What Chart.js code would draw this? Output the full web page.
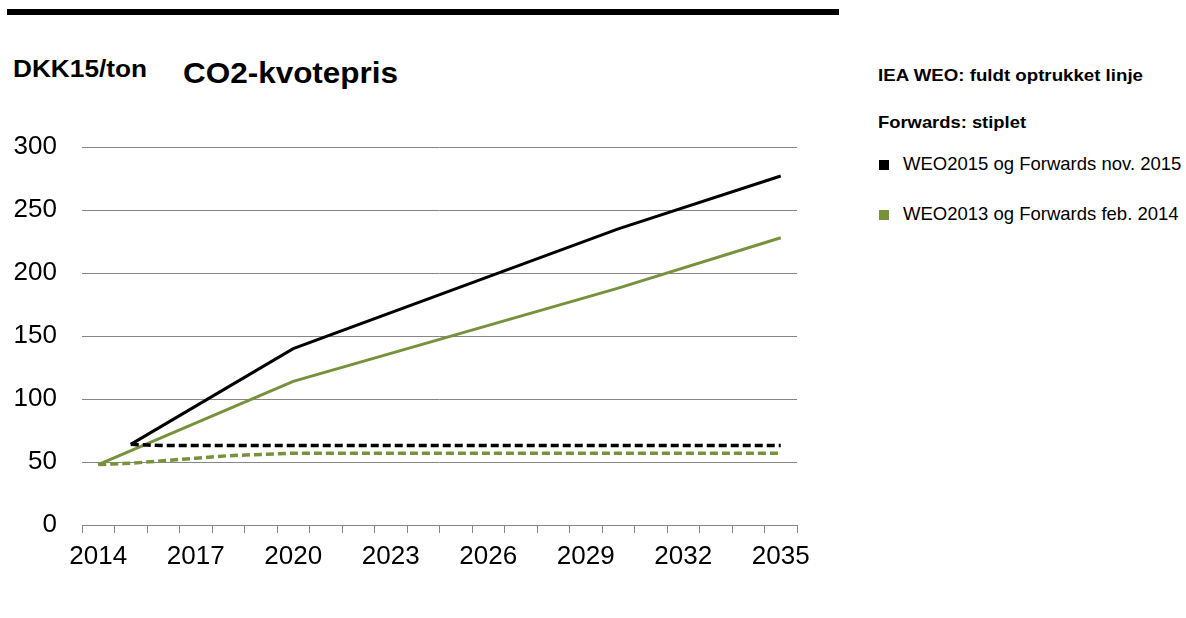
<!DOCTYPE html>
<html>
<head>
<meta charset="utf-8">
<script src="https://cdn.jsdelivr.net/npm/chart.js@4.4.1/dist/chart.umd.min.js"></script>
<style>
  html, body { margin: 0; padding: 0; background: #fff; }
  body { width: 1186px; height: 618px; position: relative; overflow: hidden; font-family: "Liberation Sans", Arial, sans-serif; }
  #c { position: absolute; left: 0; top: 0; }
  .txt { position: absolute; line-height: 1; white-space: nowrap; color: #000; transform-origin: 0 0; }
  .bold { font-weight: bold; }
  .mark { position: absolute; width: 10px; height: 10px; }
  #bar { position: absolute; left: 7px; top: 9px; width: 832px; height: 6px; background: #000; }
</style>
</head>
<body>
<div id="bar"></div>
<div class="txt bold fit" data-w="134" style="left:13px; top:58px; font-size:23px;">DKK15/ton</div>
<div class="txt bold fit" data-w="215" style="left:183px; top:58px; font-size:30px;">CO2-kvotepris</div>
<div class="txt bold fit" data-w="265" style="left:878px; top:67px; font-size:17px;">IEA WEO: fuldt optrukket linje</div>
<div class="txt bold fit" data-w="148" style="left:878px; top:114px; font-size:17px;">Forwards: stiplet</div>
<div id="legend"></div>
<canvas id="c" width="1186" height="618"></canvas>
<script>
// ---- data ----
const years = [2014,2015,2016,2017,2018,2019,2020,2021,2022,2023,2024,2025,2026,2027,2028,2029,2030,2031,2032,2033,2034,2035];
const xTickYears = [2014,2017,2020,2023,2026,2029,2032,2035];
const yTicks = [0,50,100,150,200,250,300];
// IEA WEO2015 (solid black) – known points, straight lines between them
const weo2015 = [null,64,null,null,null,null,140,null,null,null,null,null,null,null,null,null,235,null,null,null,null,277];
// Forwards nov. 2015 (dashed black)
const fwd2015 = [null,64,63,63,63,63,63,63,63,63,63,63,63,63,63,63,63,63,63,63,63,63];
// IEA WEO2013 (solid green)
const weo2013 = [48,null,null,null,null,null,114,null,null,null,null,null,null,null,null,null,188,null,null,null,null,228];
// Forwards feb. 2014 (dashed green)
const fwd2014 = [48,49,51,53,55,56,57,57,57,57,57,57,57,57,57,57,57,57,57,57,57,57];
const legendLabels = ["WEO2015 og Forwards nov. 2015", "WEO2013 og Forwards feb. 2014"];

// ---- styles ----
const BLACK = "#000000";
const GREEN = "#76923C";
const GRID = "#868686";
const FONT = "'Liberation Sans', Arial, sans-serif";

// fit bold headings horizontally
document.querySelectorAll('.fit').forEach(el => {
  const w = el.getBoundingClientRect().width;
  const t = parseFloat(el.dataset.w);
  if (w > 0) el.style.transform = 'scaleX(' + (t / w) + ')';
});

// HTML legend
const legendColors = [BLACK, GREEN];
const legendPos = [{mt:160, tt:155}, {mt:210, tt:205}];
const lg = document.getElementById('legend');
legendLabels.forEach((lab, i) => {
  const m = document.createElement('div');
  m.className = 'mark';
  m.style.left = '879px'; m.style.top = legendPos[i].mt + 'px';
  m.style.background = legendColors[i];
  lg.appendChild(m);
  const t = document.createElement('div');
  t.className = 'txt';
  t.style.left = '903px'; t.style.top = legendPos[i].tt + 'px';
  t.style.fontSize = '18.5px';
  t.textContent = lab;
  lg.appendChild(t);
});

const common = { pointRadius: 0, pointHoverRadius: 0, tension: 0, fill: false, spanGaps: true };

new Chart(document.getElementById('c'), {
  type: 'line',
  data: {
    labels: years,
    datasets: [
      Object.assign({ label: 'Forwards feb. 2014', data: fwd2014, borderColor: GREEN, borderWidth: 3.5, borderDash: [8,4] }, common),
      Object.assign({ label: 'Forwards nov. 2015', data: fwd2015, borderColor: BLACK, borderWidth: 3.5, borderDash: [8,4] }, common),
      Object.assign({ label: 'WEO2013', data: weo2013, borderColor: GREEN, borderWidth: 3 }, common),
      Object.assign({ label: 'WEO2015', data: weo2015, borderColor: BLACK, borderWidth: 3 }, common)
    ]
  },
  options: {
    responsive: false,
    animation: false,
    events: [],
    layout: { padding: { left: 0, right: 389, top: 147, bottom: 0 } },
    plugins: { legend: { display: false }, tooltip: { enabled: false }, title: { display: false } },
    scales: {
      x: {
        offset: true,
        grid: { offset: true, drawOnChartArea: false, drawTicks: true, tickLength: 8, color: GRID, lineWidth: 1 },
        border: { display: true, color: GRID, width: 1 },
        ticks: {
          autoSkip: false, maxRotation: 0, minRotation: 0, padding: 8,
          color: '#000', font: { family: FONT, size: 26 },
          callback: function (v, i) { return xTickYears.includes(years[i]) ? String(years[i]) : ''; }
        },
        afterFit: s => { s.height = 93; }
      },
      y: {
        min: yTicks[0], max: yTicks[yTicks.length - 1],
        afterBuildTicks: s => { s.ticks = yTicks.map(v => ({ value: v })); },
        grid: { color: GRID, lineWidth: 1, drawTicks: false },
        border: { display: false },
        ticks: { padding: 25, color: '#000', font: { family: FONT, size: 26 } },
        afterFit: s => { s.width = 82; }
      }
    }
  }
});
</script>
</body>
</html>
